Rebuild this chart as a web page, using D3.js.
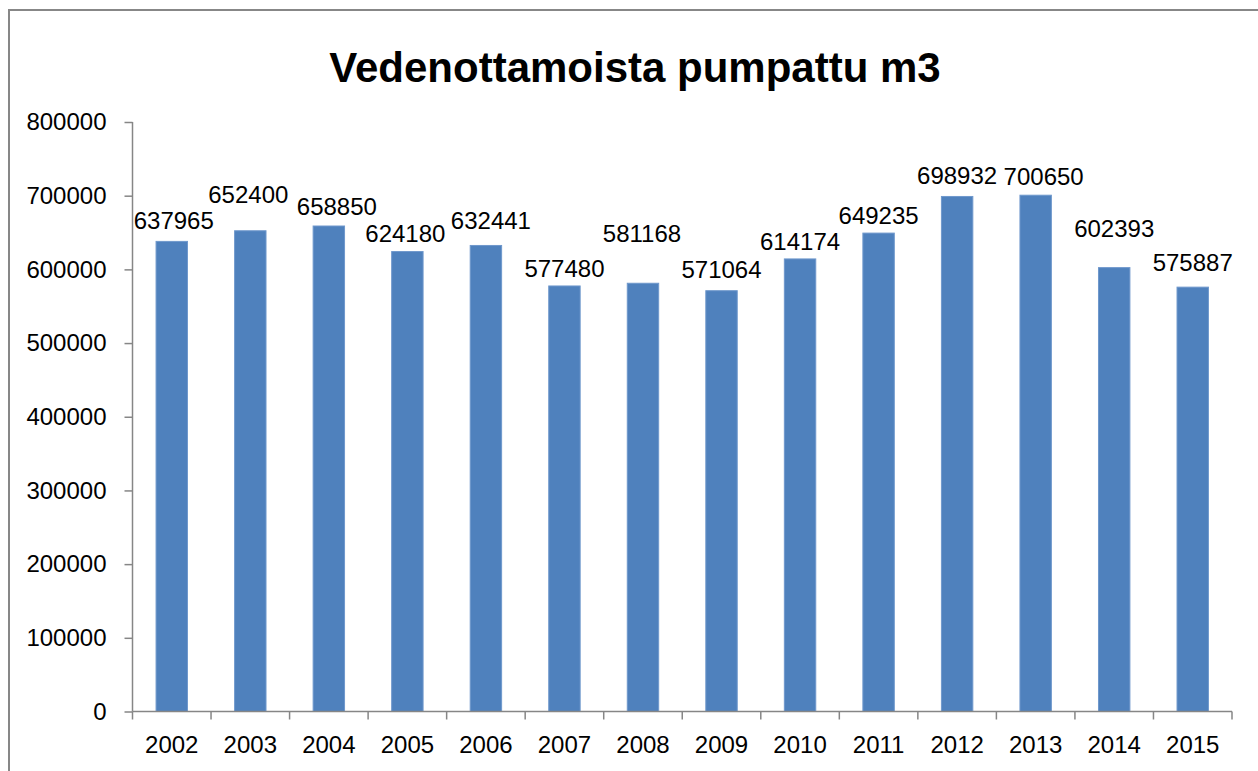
<html>
<head>
  <script src="https://d3js.org/d3.v7.min.js"></script>
  <style>
    body { margin: 0; background: white; }
    svg { display: block; }
    text { font-family: "Liberation Sans", Arial, sans-serif; fill: black; }
  </style>
</head>
<body>
  <div id="chart"></div>
<script>
  // data
  var years = ["2002", "2003", "2004", "2005", "2006", "2007", "2008",
               "2009", "2010", "2011", "2012", "2013", "2014", "2015"];
  var pumped = [637965, 652400, 658850, 624180, 632441, 577480, 581168,
                571064, 614174, 649235, 698932, 700650, 602393, 575887];
  var yTicks = [0, 100000, 200000, 300000, 400000, 500000, 600000, 700000, 800000];

  // label nudges, like the hand-moved labels of the original
  var labelDx = [2, -2, 8, -2, 5, 0, -1, 0, 0, 0, 0, 8, 0, 0];
  var labelLift = [2, 18, 1, 0, 6, -1, 31, 3, -1, -1, 2, 0, 21, 6];

  var width = 1258, height = 771;
  var plotLeft = 132.5, plotRight = 1232, plotTop = 122, plotBottom = 711.5;

  var svg = d3.select("#chart").append("svg")
    .attr("width", width).attr("height", height);

  // outer frame (runs off the right and bottom edge)
  svg.append("rect").attr("x", 9).attr("y", 10)
    .attr("width", 1300).attr("height", 900)
    .attr("fill", "none").attr("stroke", "#878787").attr("stroke-width", 2);

  svg.append("text").attr("x", 635).attr("y", 82)
    .attr("text-anchor", "middle")
    .style("font-size", "42px").style("font-weight", "bold")
    .text("Vedenottamoista pumpattu m3");

  var x = d3.scaleBand().domain(years).range([plotLeft, plotRight]).paddingInner(0).paddingOuter(0);
  var y = d3.scaleLinear().domain([0, 800000]).range([plotBottom, plotTop]);
  var barW = x.bandwidth() * 0.4;

  // bars
  svg.selectAll("rect.bar").data(pumped).enter().append("rect")
    .attr("class", "bar")
    .attr("x", function(d, i) { return x(years[i]) + (x.bandwidth() - barW) / 2; })
    .attr("y", function(d) { return y(d); })
    .attr("width", barW)
    .attr("height", function(d) { return y(0) - y(d); })
    .attr("fill", "#4F81BD")
    .attr("stroke", "#6f98cc").attr("stroke-width", 1);

  // y axis
  var yAxis = svg.append("g").attr("transform", "translate(" + plotLeft + ",0)")
    .call(d3.axisLeft(y).tickValues(yTicks).tickSize(8).tickPadding(18).tickFormat(d3.format("d")));
  yAxis.selectAll("line, path").attr("stroke", "#868686").attr("stroke-width", 1.5);
  yAxis.select(".domain").attr("d", "M0," + plotTop + "V" + plotBottom);
  yAxis.selectAll("text").style("font-size", "24px").attr("fill", "black")
    .style("font-family", "'Liberation Sans', Arial, sans-serif");

  // x axis
  var xAxis = svg.append("g").attr("transform", "translate(0," + plotBottom + ")")
    .call(d3.axisBottom(x).tickSize(0).tickPadding(0));
  xAxis.select(".domain").attr("d", "M" + plotLeft + ",0H" + plotRight)
    .attr("stroke", "#868686").attr("stroke-width", 1.5);
  xAxis.selectAll(".tick text").attr("y", 41).attr("dy", 0)
    .style("font-size", "24px").attr("fill", "black")
    .style("font-family", "'Liberation Sans', Arial, sans-serif");
  // ticks between categories
  var edges = years.map(function(d) { return x(d); }).concat([plotRight]);
  xAxis.selectAll("line.edge").data(edges).enter().append("line")
    .attr("class", "edge")
    .attr("x1", function(d) { return d; }).attr("x2", function(d) { return d; })
    .attr("y1", 0).attr("y2", 8)
    .attr("stroke", "#868686").attr("stroke-width", 1.5);

  // value labels
  svg.selectAll("text.val").data(pumped).enter().append("text")
    .attr("class", "val")
    .attr("x", function(d, i) { return x(years[i]) + x.bandwidth() / 2 + labelDx[i]; })
    .attr("y", function(d, i) { return y(d) - 10 - labelLift[i]; })
    .attr("text-anchor", "middle")
    .style("font-size", "24px")
    .text(function(d) { return d; });
</script>
</body>
</html>
